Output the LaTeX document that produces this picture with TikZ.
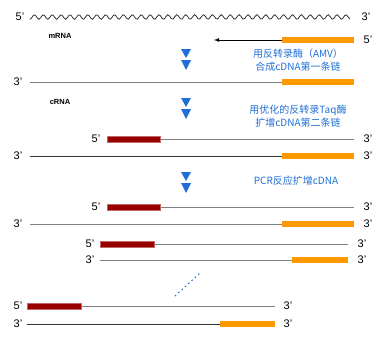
\documentclass[tikz,border=0pt]{standalone}
\usepackage{fontspec}
\setmainfont{Liberation Sans}
\newfontfamily\cjk{Noto Sans CJK SC}
\definecolor{primerorange}{HTML}{FF9900}
\definecolor{primerred}{HTML}{990000}
\definecolor{stepblue}{HTML}{1F6FD6}
\begin{document}
\begin{tikzpicture}[
  x=1pt, y=-1pt,
  end/.style={font=\fontsize{11}{12}\selectfont, inner sep=0pt},
  rnaname/.style={font=\fontsize{7.5}{8}\selectfont\bfseries, inner sep=0pt},
  steptext/.style={font=\cjk\fontsize{10}{13.5}\selectfont, text=stepblue, align=center, inner sep=0pt},
  strand/.style={line width=1pt, black!50},
  darkstrand/.style={line width=1pt, black!80},
  orangebar/.style={fill=primerorange, draw=none},
  redbar/.style={fill=primerred, draw=primerred!60, line width=0.4pt},
  marker/.style={fill=stepblue, draw=none},
  >=latex
]
\useasboundingbox (0,0) rectangle (384,348);

% === mRNA template and first primer ===
\draw[black!80, line width=0.8pt] plot[domain=30:350, samples=180, smooth]
  (\x, {17+2.3*sin((\x-30)/8.9*360+90)});
\node[end] (m5) at (20,17) {5’};
\node[end] (m3) at (366,17) {3’};
\node[rnaname] (mrna) at (60,36) {mRNA};

\coordinate (p1) at (282,40);
\coordinate (p1tip) at (214,40);
\fill[orangebar] (282,37) rectangle (354,43);
\draw[->, black, line width=0.8pt] (p1) -- (p1tip);
\node[end] (p1end) at (368,40) {5’};

% double arrow markers between the steps
\foreach \ty in {49,98,172} {
  \fill[marker] (181,\ty) -- (191,\ty) -- (186,\ty+9) -- cycle;
  \fill[marker] (181,\ty+11) -- (191,\ty+11) -- (186,\ty+21) -- cycle;
}

\node[steptext] (s1) at (298,60) {用反转录酶（AMV）\\合成cDNA第一条链};

% === first cDNA strand ===
\node[end] (a3) at (18,82) {3’};
\coordinate (a0) at (30,82);
\coordinate (a1) at (354,82);
\draw[strand] (a0) -- (a1);
\fill[orangebar] (282,79) rectangle (354,85);

% === second strand synthesis ===
\node[rnaname] (crna) at (60,102) {cRNA};
\node[steptext] (s2) at (298,116) {用优化的反转录Taq酶\\扩增cDNA第二条链};

\node[end] (b5) at (96,139) {5’};
\node[end] (b3) at (368,139) {3’};
\draw[strand] (107,139) coordinate (b0) -- (354,139) coordinate (b1);
\filldraw[redbar] (107,136) rectangle (160,142);

\node[end] (c3) at (18,156) {3’};
\node[end] (c3r) at (368,156) {3’};
\draw[darkstrand] (30,156) coordinate (c0) -- (354,156) coordinate (c1);
\fill[orangebar] (282,153) rectangle (354,159);

% === PCR ===
\node[steptext] (s3) at (296,181) {PCR反应扩增cDNA};

\node[end] (d5) at (96,207) {5’};
\node[end] (d3) at (368,207) {3’};
\draw[strand] (107,207) coordinate (d0) -- (354,207) coordinate (d1);
\filldraw[redbar] (107,204) rectangle (160,210);

\node[end] (e3) at (18,224) {3’};
\node[end] (e3r) at (368,224) {3’};
\draw[strand] (30,224) coordinate (e0) -- (354,224) coordinate (e1);
\fill[orangebar] (282,221) rectangle (354,227);

\node[end] (f5) at (90,244) {5’};
\node[end] (f3) at (362,244) {3’};
\draw[strand] (100,244) coordinate (f0) -- (348,244) coordinate (f1);
\filldraw[redbar] (100,241) rectangle (154,247);

\node[end] (g3) at (90,260) {3’};
\node[end] (g3r) at (362,260) {3’};
\draw[strand] (100,260) coordinate (g0) -- (348,260) coordinate (g1);
\fill[orangebar] (292,257) rectangle (348,263);

% continuation dots
\coordinate (dotsA) at (175,296);
\coordinate (dotsB) at (200,273);
\draw[stepblue, line width=1.1pt, dash pattern=on 1.5pt off 3pt] (dotsA) -- (dotsB);

\node[end] (h5) at (18,306) {5’};
\node[end] (h3) at (288,306) {3’};
\draw[strand] (27,306) coordinate (h0) -- (275,306) coordinate (h1);
\filldraw[redbar] (27,303) rectangle (81,309);

\node[end] (k3) at (18,324) {3’};
\node[end] (k3r) at (288,324) {3’};
\draw[darkstrand] (27,324) coordinate (k0) -- (275,324) coordinate (k1);
\fill[orangebar] (220,321) rectangle (275,327);

\end{tikzpicture}
\end{document}
